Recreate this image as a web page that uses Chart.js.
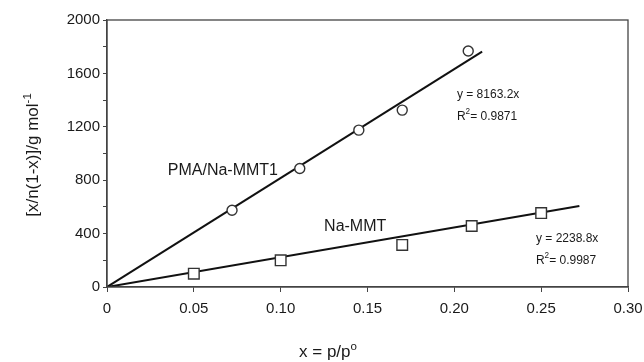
<!DOCTYPE html>
<html>
<head>
<meta charset="utf-8">
<script src="https://cdn.jsdelivr.net/npm/chart.js@4.4.1/dist/chart.umd.min.js"></script>
<style>
  html, body { margin: 0; padding: 0; background: #fff; }
  #wrap { width: 644px; height: 362px; position: relative; }
</style>
</head>
<body>
<div id="wrap"><canvas id="isoChart"></canvas></div>
<script>
// measured points
const pmaX = [0.072, 0.111, 0.145, 0.170, 0.208];
const pmaY = [575, 888, 1175, 1325, 1768];
const nammtX = [0.05, 0.10, 0.17, 0.21, 0.25];
const nammtY = [100, 200, 315, 457, 554];

// fitted lines (start and end)
const pmaFitX = [0, 0.216];
const pmaFitY = [0, 1763];
const nammtFitX = [0, 0.272];
const nammtFitY = [0, 606];

const xTicks = [0, 0.05, 0.10, 0.15, 0.20, 0.25, 0.30];
const yTicks = [0, 400, 800, 1200, 1600, 2000];

const toPts = (xs, ys) => xs.map((v, i) => ({ x: v, y: ys[i] }));

const FONT = 'Arial, "Liberation Sans", sans-serif';

// draws a string made of normal / superscript pieces
function drawParts(ctx, parts, x, y, size) {
    let cx = x;
    parts.forEach(([txt, sup]) => {
        const s = sup ? size * 0.68 : size;
        ctx.font = s + 'px ' + FONT;
        ctx.fillText(txt, cx, sup ? y - size * 0.42 : y);
        cx += ctx.measureText(txt).width;
    });
}
function partsWidth(ctx, parts, size) {
    let w = 0;
    parts.forEach(([txt, sup]) => {
        ctx.font = (sup ? size * 0.68 : size) + 'px ' + FONT;
        w += ctx.measureText(txt).width;
    });
    return w;
}

const notes = [
    { parts: [['y = 8163.2x', 0]], x: 0.2015, y: 1438, size: 12 },
    { parts: [['R', 0], ['2', 1], ['= 0.9871', 0]], x: 0.2015, y: 1273, size: 12 },
    { parts: [['y = 2238.8x', 0]], x: 0.247, y: 360, size: 12 },
    { parts: [['R', 0], ['2', 1], ['= 0.9987', 0]], x: 0.247, y: 195, size: 12 },
    { parts: [['PMA/Na-MMT1', 0]], x: 0.035, y: 869, size: 16 },
    { parts: [['Na-MMT', 0]], x: 0.125, y: 449, size: 16 }
];

const textPlugin = {
    id: 'texts',
    afterDraw(chart) {
        const { ctx, chartArea, scales } = chart;
        ctx.save();
        // frame
        ctx.strokeStyle = '#444';
        ctx.lineWidth = 1.3;
        ctx.strokeRect(chartArea.left, chartArea.top,
            chartArea.right - chartArea.left, chartArea.bottom - chartArea.top);

        ctx.fillStyle = '#1a1a1a';
        ctx.textBaseline = 'middle';
        ctx.textAlign = 'left';
        notes.forEach(n => {
            drawParts(ctx, n.parts, scales.x.getPixelForValue(n.x),
                scales.y.getPixelForValue(n.y), n.size);
        });

        // x title
        ctx.textBaseline = 'alphabetic';
        const xt = [['x = p/p', 0], ['o', 1]];
        const xw = partsWidth(ctx, xt, 17);
        drawParts(ctx, xt, 328 - xw / 2, 357, 17);

        // y title (rotated)
        const yt = [['[x/n(1-x)]/g mol', 0], ['-1', 1]];
        const yw = partsWidth(ctx, yt, 17);
        ctx.translate(38, 155);
        ctx.rotate(-Math.PI / 2);
        drawParts(ctx, yt, -yw / 2, 0, 17);
        ctx.restore();
    }
};

const ctx = document.getElementById('isoChart').getContext('2d');
new Chart(ctx, {
    type: 'scatter',
    data: {
        datasets: [
            {
                label: 'PMA/Na-MMT1',
                data: toPts(pmaX, pmaY),
                pointStyle: 'circle',
                pointRadius: 5,
                pointBackgroundColor: '#fff',
                pointBorderColor: '#333',
                pointBorderWidth: 1.4,
                order: 0
            },
            {
                label: 'Na-MMT',
                data: toPts(nammtX, nammtY),
                pointStyle: 'rect',
                pointRadius: 7.5,
                pointBackgroundColor: '#fff',
                pointBorderColor: '#333',
                pointBorderWidth: 1.4,
                order: 0
            },
            {
                label: 'fit PMA',
                data: toPts(pmaFitX, pmaFitY),
                showLine: true,
                pointRadius: 0,
                borderColor: '#111',
                borderWidth: 2,
                order: 1
            },
            {
                label: 'fit Na-MMT',
                data: toPts(nammtFitX, nammtFitY),
                showLine: true,
                pointRadius: 0,
                borderColor: '#111',
                borderWidth: 2,
                order: 1
            }
        ]
    },
    options: {
        responsive: true,
        maintainAspectRatio: false,
        animation: false,
        layout: {
            padding: { top: 20, right: 16, left: 0, bottom: 0 }
        },
        plugins: {
            legend: { display: false },
            tooltip: { enabled: false }
        },
        scales: {
            x: {
                type: 'linear',
                min: 0,
                max: 0.3,
                afterBuildTicks: s => { s.ticks = xTicks.map(v => ({ value: v })); },
                afterFit: s => {
                    s.height = 75;
                    s.paddingLeft = 0;
                    s.paddingRight = 0;
                },
                grid: {
                    drawOnChartArea: false,
                    tickLength: 5,
                    color: '#444'
                },
                border: { color: '#444', width: 1.3 },
                ticks: {
                    padding: 8,
                    color: '#1a1a1a',
                    font: { family: FONT, size: 15 },
                    maxRotation: 0,
                    callback: v => v === 0 ? '0' : v.toFixed(2)
                }
            },
            y: {
                min: 0,
                max: 2000,
                afterBuildTicks: s => {
                    // minor marks every 200 between the labelled ticks
                    const t = [];
                    for (let i = 0; i < yTicks.length; i++) {
                        t.push({ value: yTicks[i] });
                        if (i < yTicks.length - 1) t.push({ value: (yTicks[i] + yTicks[i + 1]) / 2 });
                    }
                    s.ticks = t;
                },
                afterFit: s => {
                    s.width = 107;
                    s.paddingTop = 0;
                    s.paddingBottom = 0;
                },
                grid: {
                    drawOnChartArea: false,
                    tickLength: 4,
                    color: '#444'
                },
                border: { color: '#444', width: 1.3 },
                ticks: {
                    padding: 3,
                    color: '#1a1a1a',
                    font: { family: FONT, size: 15 },
                    callback: v => yTicks.includes(v) ? String(v) : ''
                }
            }
        }
    },
    plugins: [textPlugin]
});
</script>
</body>
</html>
